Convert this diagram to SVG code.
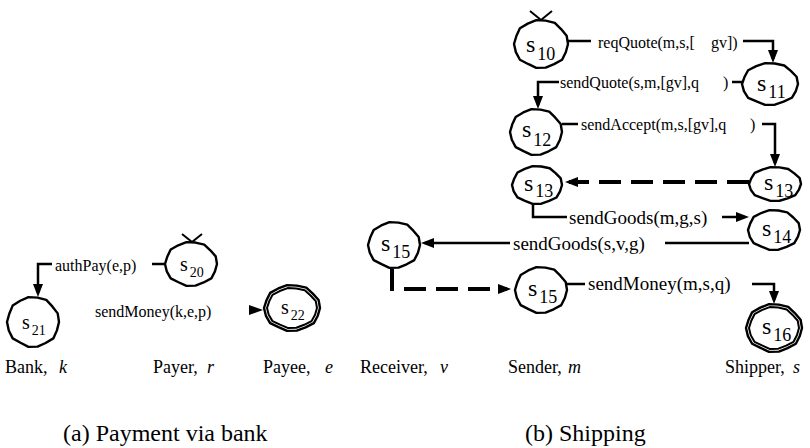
<svg xmlns="http://www.w3.org/2000/svg" width="810" height="448" viewBox="0 0 810 448">
<style>
  .st { fill:#fff; stroke:#000; stroke-width:2.4; stroke-linejoin:round; }
  .fin { fill:none; stroke:#000; stroke-width:2; stroke-linejoin:round; }
  text { font-family:"Liberation Serif","Times New Roman",serif; fill:#000; }
  .s { font-size:24px; }
  .sub { font-size:18px; }
  .sa { font-size:20px; }
  .suba { font-size:14px; }
  .msg { font-size:16px; }
  .msgL { font-size:19px; }
  .role { font-size:18px; }
  .cap { font-size:24px; }
  .it { font-style:italic; }
  .edge { fill:none; stroke:#000; stroke-width:2.5; }
  .async { fill:none; stroke:#000; stroke-width:4; stroke-dasharray:22 10; }
  .init { fill:none; stroke:#000; stroke-width:2; }
</style>
<defs>
  <!-- slightly irregular outline used for every state, unit size -->
  <polygon id="blob" vector-effect="non-scaling-stroke"
    points="1,0 0.921,0.335 0.781,0.656 0.485,0.840 0.174,0.985 -0.175,0.995 -0.48,0.831 -0.781,0.656 -0.931,0.339 -1,0 -0.912,-0.332 -0.781,-0.656 -0.49,-0.849 -0.175,-0.995 0.172,-0.975 0.51,-0.883 0.743,-0.624 0.950,-0.345"/>
  <marker id="ah" markerUnits="userSpaceOnUse" markerWidth="13" markerHeight="10" refX="9" refY="5" orient="auto">
    <path d="M0,0 L13,5 L0,10 Z" fill="#000"/>
  </marker>
</defs>

<!-- (a) Payment via bank -->
<g id="s21">
  <use href="#blob" class="st" transform="translate(33,322) scale(26,25)"/>
  <text class="sa" x="22" y="329">s<tspan class="suba" dx="2" dy="6">21</tspan></text>
</g>
<g id="s20">
  <use href="#blob" class="st" transform="translate(191,264) scale(26,22)"/>
  <path class="init" d="M182,234 L192,242 L202,234"/>
  <text class="sa" x="180" y="271">s<tspan class="suba" dx="2" dy="6">20</tspan></text>
</g>
<g id="s22">
  <use href="#blob" class="st" transform="translate(292,308) scale(28,23)"/>
  <use href="#blob" class="fin" transform="translate(292,308) scale(25,20)"/>
  <text class="sa" x="281" y="314">s<tspan class="suba" dx="2" dy="6">22</tspan></text>
</g>

<!-- (b) Shipping -->
<g id="s10">
  <use href="#blob" class="st" transform="translate(541,44) scale(27,24)"/>
  <path class="init" d="M530,11 L541,20 L552,11"/>
  <text class="s" x="526" y="52">s<tspan class="sub" dx="2" dy="8">10</tspan></text>
</g>
<g id="s11">
  <use href="#blob" class="st" transform="translate(770,84) scale(28,21)"/>
  <text class="s" x="757" y="91">s<tspan class="sub" dx="2" dy="7">11</tspan></text>
</g>
<g id="s12">
  <use href="#blob" class="st" transform="translate(536,132) scale(26,23)"/>
  <text class="s" x="522" y="137">s<tspan class="sub" dx="2" dy="9">12</tspan></text>
</g>
<g id="s13-sender">
  <use href="#blob" class="st" transform="translate(537,185) scale(25,19)"/>
  <text class="s" x="524" y="191">s<tspan class="sub" dx="2" dy="6">13</tspan></text>
</g>
<g id="s13-shipper">
  <use href="#blob" class="st" transform="translate(775,184) scale(26,17)"/>
  <text class="s" x="764" y="190">s<tspan class="sub" dx="2" dy="7">13</tspan></text>
</g>
<g id="s14">
  <use href="#blob" class="st" transform="translate(774,230) scale(26,20)"/>
  <text class="s" x="762" y="236">s<tspan class="sub" dx="2" dy="7">14</tspan></text>
</g>
<g id="s15-receiver">
  <use href="#blob" class="st" transform="translate(394,245) scale(26,23)"/>
  <text class="s" x="381" y="251">s<tspan class="sub" dx="2" dy="7">15</tspan></text>
</g>
<g id="s15-sender">
  <use href="#blob" class="st" transform="translate(541,290) scale(26,23)"/>
  <text class="s" x="528" y="296">s<tspan class="sub" dx="2" dy="7">15</tspan></text>
</g>
<g id="s16">
  <use href="#blob" class="st" transform="translate(774,328) scale(28,24)"/>
  <use href="#blob" class="fin" transform="translate(774,328) scale(25,21)"/>
  <text class="s" x="762" y="334">s<tspan class="sub" dx="2" dy="7">16</tspan></text>
</g>

<!-- transitions -->
<g id="connectors">
  <path class="edge" d="M166,264 H152"/>
  <path class="edge" d="M52,264 H38 V293" marker-end="url(#ah)"/>
  <text class="msg" x="55" y="271">authPay(e,p)</text>

  <path d="M249,305 L263,310 L249,315 Z" fill="#000"/>
  <text class="msg" x="95" y="317">sendMoney(k,e,p)</text>

  <path class="edge" d="M568,41 H591"/>
  <path class="edge" d="M743,41 H773 V59" marker-end="url(#ah)"/>
  <text class="msg" x="598" y="48">reqQuote(m,s,[<tspan x="711">gv])</tspan></text>

  <path class="edge" d="M743,82 H732"/>
  <path class="edge" d="M559,82 H538 V105" marker-end="url(#ah)"/>
  <text class="msg" x="560" y="88">sendQuote(s,m,[gv],q<tspan x="723">)</tspan></text>

  <path class="edge" d="M562,124 H578"/>
  <path class="edge" d="M762,124 H775 V163" marker-end="url(#ah)"/>
  <text class="msg" x="581" y="130">sendAccept(m,s,[gv],q<tspan x="750">)</tspan></text>

  <path class="async" d="M749,182 H569" marker-end="url(#ah)"/>

  <path class="edge" d="M533,204 V217 H567"/>
  <path class="edge" d="M722,217 H745" marker-end="url(#ah)"/>
  <text class="msgL" x="569" y="224">sendGoods(m,g,s)</text>

  <path class="edge" d="M749,243 H665"/>
  <path class="edge" d="M510,243 H425" marker-end="url(#ah)"/>
  <text class="msgL" x="513" y="250">sendGoods(s,v,g)</text>

  <path class="async" d="M392,269 V289 H507" marker-end="url(#ah)"/>

  <path class="edge" d="M567,284 H585"/>
  <path class="edge" d="M752,284 H774 V300" marker-end="url(#ah)"/>
  <text class="msgL" x="588" y="290">sendMoney(m,s,q)</text>
</g>

<!-- role names -->
<g id="roles">
  <text class="role" x="5" y="373">Bank,<tspan class="it" x="59">k</tspan></text>
  <text class="role" x="153" y="373">Payer,<tspan class="it" x="207">r</tspan></text>
  <text class="role" x="263" y="373">Payee,<tspan class="it" x="325">e</tspan></text>
  <text class="role" x="360" y="373">Receiver,<tspan class="it" x="440">v</tspan></text>
  <text class="role" x="508" y="373">Sender,<tspan class="it" x="568">m</tspan></text>
  <text class="role" x="725" y="373">Shipper,<tspan class="it" x="793">s</tspan></text>
</g>

<!-- captions -->
<text class="cap" x="63" y="441">(a) Payment via bank</text>
<text class="cap" x="525" y="441">(b) Shipping</text>
</svg>
